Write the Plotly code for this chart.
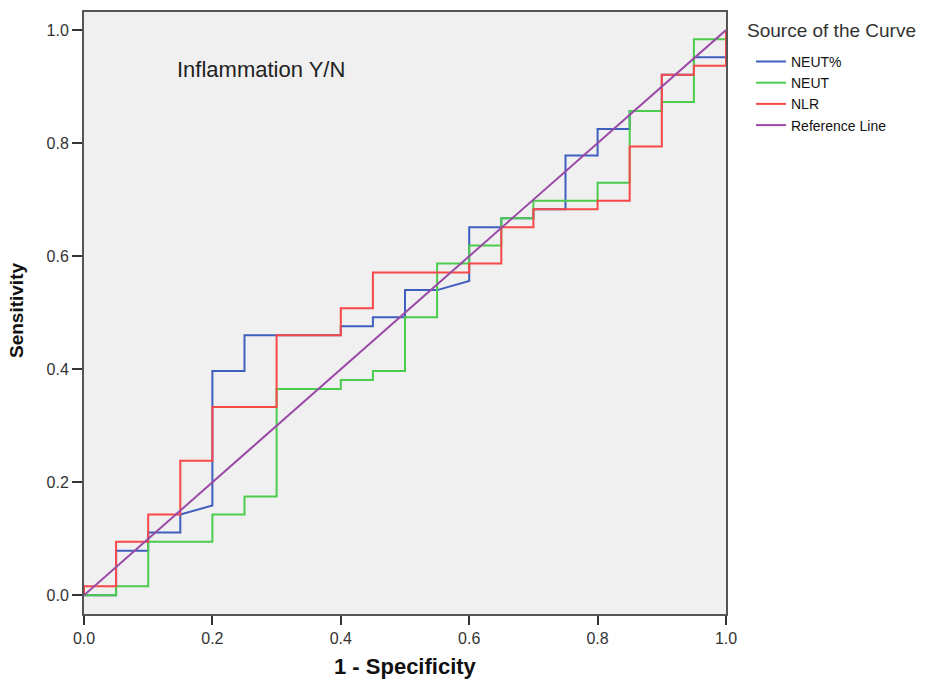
import plotly.graph_objects as go

# ROC curve corner points (1 - specificity, sensitivity)
neutp_x = [0, 0.05, 0.05, 0.10, 0.10, 0.15, 0.15, 0.20, 0.20, 0.25,
           0.25, 0.40, 0.40, 0.45, 0.45, 0.50, 0.50, 0.55, 0.60, 0.60,
           0.65, 0.65, 0.70, 0.70, 0.75, 0.75, 0.80, 0.80, 0.85, 0.85,
           0.90, 0.90, 0.95, 0.95, 1.0, 1.0]
neutp_y = [0, 0, 0.079, 0.079, 0.111, 0.111, 0.143, 0.159, 0.397, 0.397,
           0.460, 0.460, 0.476, 0.476, 0.492, 0.492, 0.540, 0.540, 0.556, 0.651,
           0.651, 0.667, 0.667, 0.683, 0.683, 0.778, 0.778, 0.825, 0.825, 0.857,
           0.857, 0.921, 0.921, 0.952, 0.952, 1.0]

neut_x = [0, 0.05, 0.05, 0.10, 0.10, 0.20, 0.20, 0.25, 0.25, 0.30,
          0.30, 0.40, 0.40, 0.45, 0.45, 0.50, 0.50, 0.55, 0.55, 0.60,
          0.60, 0.65, 0.65, 0.70, 0.70, 0.80, 0.80, 0.85, 0.85, 0.90,
          0.90, 0.95, 0.95, 1.0, 1.0]
neut_y = [0, 0, 0.016, 0.016, 0.095, 0.095, 0.143, 0.143, 0.175, 0.175,
          0.365, 0.365, 0.381, 0.381, 0.397, 0.397, 0.492, 0.492, 0.587, 0.587,
          0.619, 0.619, 0.667, 0.667, 0.698, 0.698, 0.730, 0.730, 0.857, 0.857,
          0.873, 0.873, 0.984, 0.984, 1.0]

nlr_x = [0, 0, 0.05, 0.05, 0.10, 0.10, 0.15, 0.15, 0.20, 0.20,
         0.30, 0.30, 0.40, 0.40, 0.45, 0.45, 0.60, 0.60, 0.65, 0.65,
         0.70, 0.70, 0.80, 0.80, 0.85, 0.85, 0.90, 0.90, 0.95, 0.95,
         1.0, 1.0]
nlr_y = [0, 0.016, 0.016, 0.095, 0.095, 0.143, 0.143, 0.238, 0.238, 0.333,
         0.333, 0.460, 0.460, 0.508, 0.508, 0.571, 0.571, 0.587, 0.587, 0.651,
         0.651, 0.683, 0.683, 0.698, 0.698, 0.794, 0.794, 0.921, 0.921, 0.937,
         0.937, 1.0]

ref_x = [0, 1]
ref_y = [0, 1]

tick_vals = [0.0, 0.2, 0.4, 0.6, 0.8, 1.0]
tick_text = ["0.0", "0.2", "0.4", "0.6", "0.8", "1.0"]

series = [
    ("NEUT%", neutp_x, neutp_y, "#3f5fbf"),
    ("NEUT", neut_x, neut_y, "#4ccc4c"),
    ("NLR", nlr_x, nlr_y, "#f84848"),
    ("Reference Line", ref_x, ref_y, "#9a4aa6"),
]

FONT = "Liberation Sans, Arial, sans-serif"

fig = go.Figure()
for name, xs, ys, col in series:
    fig.add_trace(go.Scatter(x=xs, y=ys, mode="lines", name=name,
                             line=dict(color=col, width=2)))

axis_common = dict(
    showgrid=False, zeroline=False, showline=True, mirror=True,
    linecolor="#555555", linewidth=2, ticks="outside", tickcolor="#333333",
    tickwidth=2, tickvals=tick_vals, ticktext=tick_text,
    tickfont=dict(family=FONT, size=16, color="#333333"),
)

fig.update_layout(
    width=926, height=687,
    paper_bgcolor="white", plot_bgcolor="#f0f0f0",
    margin=dict(l=84, r=200, t=10, b=73),
    font=dict(family=FONT),
    xaxis=dict(range=[0, 1], ticklen=9, **axis_common),
    yaxis=dict(range=[-0.033, 1.032], ticklen=10, **axis_common),
    showlegend=True,
    legend=dict(x=(751 - 84) / 642, y=(614 - 44) / 604, xanchor="left", yanchor="top",
                font=dict(family=FONT, size=14, color="#111111"),
                bgcolor="rgba(0,0,0,0)", itemwidth=30, tracegroupgap=0),
    annotations=[
        dict(text="Source of the Curve", xref="paper", yref="paper",
             x=(745 - 84) / 642, y=(614 - 29) / 604, xanchor="left", yanchor="middle",
             showarrow=False, font=dict(family=FONT, size=19, color="#333333")),
        dict(text="Inflammation Y/N", xref="x", yref="y", x=(175 - 84) / 642, y=0.931,
             xanchor="left", yanchor="middle", showarrow=False,
             font=dict(family=FONT, size=22, color="#222222")),
        dict(text="<b>1 - Specificity</b>", xref="paper", yref="paper",
             x=0.5, y=(614 - 667) / 604, xanchor="center", yanchor="middle",
             showarrow=False, font=dict(family=FONT, size=22, color="#111111")),
        dict(text="<b>Sensitivity</b>", xref="paper", yref="paper",
             x=(16 - 84) / 642, y=(614 - 310) / 604, xanchor="center", yanchor="middle",
             textangle=-90, showarrow=False,
             font=dict(family=FONT, size=19, color="#111111")),
    ],
)

fig.write_html("out.html", config={"displayModeBar": False},
               post_script="document.body.style.margin='0';")
